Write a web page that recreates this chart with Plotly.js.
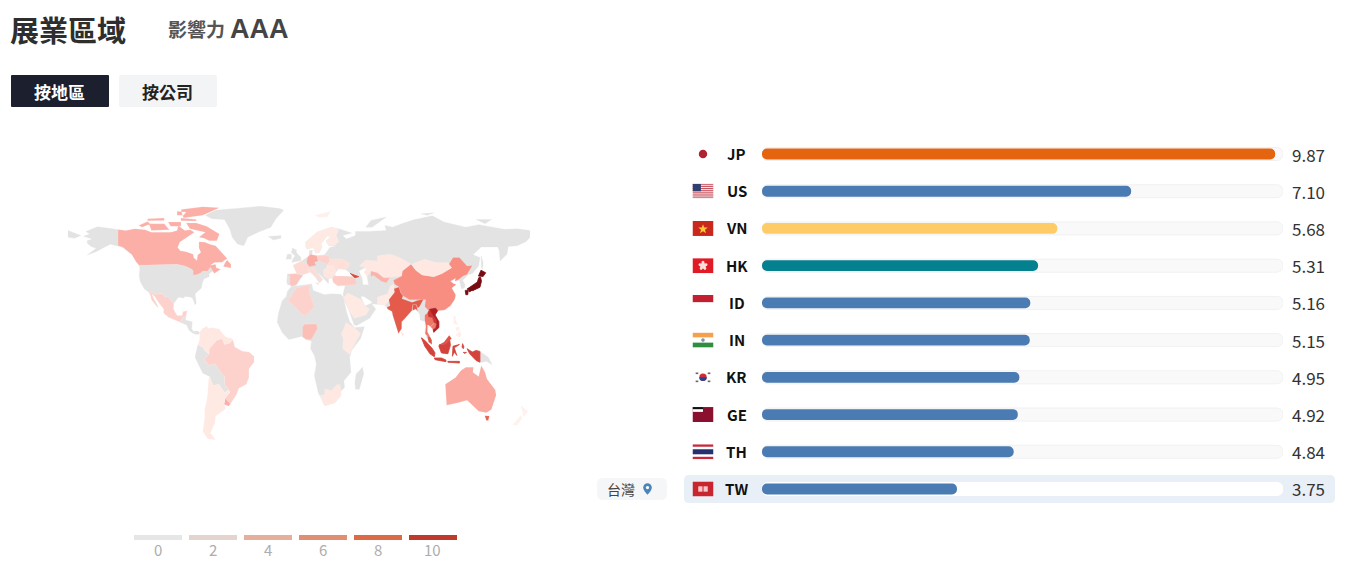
<!DOCTYPE html>
<html><head><meta charset="utf-8">
<script src="https://cdn.plot.ly/plotly-3.0.1.min.js"></script>
<style>html,body{margin:0;padding:0;background:#fff}#c{width:1346px;height:568px}</style></head>
<body><div id="c"></div>
<script>
const codes = ['JP','US','VN','HK','ID','IN','KR','GE','TH','TW'];
const scores = [9.87,7.10,5.68,5.31,5.16,5.15,4.95,4.92,4.84,3.75];
const barColors = ['#e4640f','#4a7cb3','#fdcb68','#05808f','#4a7cb3','#4a7cb3','#4a7cb3','#4a7cb3','#4a7cb3','#4a7cb3'];
const legendLabels = ['0','2','4','6','8','10'];
const legendColors = ['#e6e6e6','#e3d5cd','#e4b09b','#e08f72','#dc6a45','#bf3a2b'];

// Rough map outlines, [longitude, latitude]; no geographic file can be loaded here.
const landNorthAmerica = [
 [[-141,69.6],[-141,60.2],[-137,58.9],[-133,56.5],[-130.5,55],[-134,58.5],[-140,59.8],[-147,60.9],[-152,59],[-158,56.5],[-165,54.5],[-158,58.5],[-162,59.5],[-165,61.5],[-165,63],[-161,64],[-168,65.6],[-163,67],[-166,68.5],[-157,71.2],[-150,70.5]],
 [[-124.7,48.4],[-95,49],[-89,48],[-84.5,46.5],[-82.5,45.3],[-82.5,42.5],[-79,43],[-76.5,44],[-75,45],[-71,45],[-69,47.3],[-67,45],[-70,43.5],[-70,41.7],[-74,40.5],[-75.5,37.5],[-76,35],[-81,31.5],[-80,26],[-81,25],[-83,29],[-85,29.7],[-89,30],[-90,29],[-94,29.5],[-97.5,26],[-99.5,27.5],[-101.5,29.7],[-104.5,29.6],[-106.5,31.8],[-111,31.3],[-114.8,32.5],[-117.1,32.5],[-120.6,34.5],[-123.8,39],[-124.5,42.5],[-124,46.5]],
 [[-92.2,14.6],[-91,17.2],[-89,17.8],[-88,18.5],[-88.5,16],[-83.2,15],[-83.6,11],[-82.5,9.3],[-79.5,9.5],[-77.4,8.7],[-78,7.5],[-80.5,7.5],[-83,8.3],[-85.7,10],[-87.5,13],[-90,13.7]],
 [[-73,78],[-65,81],[-30,83.4],[-15,82],[-12,81],[-18,76],[-22,71],[-32,68],[-40,65],[-43,60],[-48,61],[-52,65],[-54,70],[-58,75.5],[-68,76]],
 [[-24,65.5],[-14,66],[-14,64.5],[-20,63.4]]
];
const landSouthAmerica = [
 [[-78.8,1.4],[-75.3,0],[-73,-2.4],[-70,-4.2],[-74,-7.5],[-70,-11],[-65.3,-10],[-60,-16],[-58,-17.5],[-58,-22],[-54.6,-25.5],[-58,-27],[-62.5,-22],[-67,-23],[-69.5,-17.5],[-75,-15.5],[-81,-6],[-80,-2.5]]
];
const landAfrica = [
 [[-6,35.8],[10,37.3],[11,33.5],[20,31],[25,31.5],[32.5,31.2],[34.5,29.5],[37,21],[39.5,15],[43.3,11.5],[51,12],[48,5],[41,-2],[39.5,-6],[40.5,-15],[35,-20],[35.5,-24],[32.8,-26],[32.5,-29],[28,-33],[20,-34.8],[18,-32],[15,-27],[12,-17],[13.5,-10],[12,-5],[9,-1],[9.7,3.5],[5.5,4.5],[2,6.3],[-4,5],[-8,4.5],[-13,8.5],[-17,14.7],[-16,20],[-13,27.5],[-9.8,30],[-9,33]],
 [[49.5,-12],[50.4,-16],[47,-25],[44,-25],[43.5,-21],[44.5,-16]]
];
const landEurasia = [
 [[-9.5,38.7],[-9,43.3],[-1.5,43.5],[-4.5,48.5],[2,51],[8,54],[8,57],[10.5,57.5],[10,54],[14,54],[20,54.7],[24,59],[30,60],[23,60],[21,63],[25,65.5],[22,65.8],[17,61],[18,59.5],[16,56],[13,55.5],[11,59],[6,58],[5,62],[14,68],[25,71],[31,70],[41,67.5],[34,66],[37,64],[44,66],[44,68.5],[54,68.5],[68,69],[67,72],[73,71],[80,73],[90,75.5],[104,77.7],[113,74],[130,71],[140,72.5],[160,69.7],[170,70],[180,69],[180,65],[177,62.5],[170,60],[163,59.5],[162,55],[156.7,51],[156,57],[155,59.3],[142,59.3],[135.5,54.7],[141,53],[140,48],[135,43.5],[132,43],[129.5,41],[127.5,39.5],[129.3,37],[129,35],[126.5,34.5],[126,37],[125,39.5],[121.5,39],[122,40.7],[118,39],[120.5,37.5],[122.5,37],[119,35],[122,31],[121.5,28.5],[118,24.5],[113.5,22],[108,21.5],[106,19],[109,15],[109,11.5],[105,8.7],[105,10.5],[101,13],[100,9],[103.5,4],[103.5,1.5],[101,3],[98.3,8],[98.5,15],[94.5,16],[94,19.5],[91,22.5],[88,21.7],[82,16.5],[80,15],[80,11],[77.5,8],[73,19],[72.5,21],[69,22.5],[67,24.8],[61,25.3],[57,25.5],[56.5,27],[50.5,30],[48,30],[51.5,24.3],[56.3,26],[59.8,22.5],[55,17],[45,12.8],[43,13],[39,21.5],[35,28],[34.3,31.3],[36,36.5],[30,36.3],[26.5,38.5],[26,41],[23,40.3],[23,37.5],[20,40],[13,45.5],[18.5,40],[16,38],[12,42],[8.8,44.4],[3,43],[0,39.5],[-2,36.8],[-5.5,36],[-9,37]],
 [[-5.5,50],[1.5,51.2],[1.5,53],[-2,56],[-2,57.5],[-5,58.6],[-6,56],[-3,54],[-5,52]],
 [[-10,52],[-6,52.2],[-6,55],[-9,55]],
 [[52,71],[56,75],[68,77],[57,71]],
 [[142,54],[143.5,50],[143,46],[142,47],[142,51]],
 [[138,75.5],[150,75.5],[145,73]],
 [[95,79],[105,79.5],[100,78]],
 [[-180,69],[-170,66],[-175,64.5],[-180,65]],
 [[141,-2.6],[145,-4.5],[147.5,-6],[150.5,-10.5],[146,-8.5],[143,-9],[141,-9]]
];
const seaCaspian = [[[47,45],[52,47],[53,41],[54,37],[50,37],[49.5,40.5]]];
const seaBlack = [[[28,43],[31,46.5],[37,45.5],[41.5,42],[35,42],[30,41.2]]];
const geoCanada = [
 [[-141,69.6],[-135,69],[-128,70],[-120,69.5],[-115,68],[-108,68],[-100,68],[-95,69],[-94,72],[-89,69],[-85,69.5],[-81.5,68],[-87,65],[-93,62],[-94.5,59],[-92.5,57],[-88,56.5],[-82.5,55],[-82,52.9],[-79.5,51.3],[-79,54.5],[-76.5,56],[-78,58.8],[-78,62.4],[-73,62],[-70,61],[-65,60],[-61,56.5],[-56,52.5],[-60,50.2],[-66,50],[-69,48.5],[-65,49],[-64.5,47],[-61,46],[-66,43.6],[-67,45],[-69,47.3],[-71,45],[-75,45],[-76.5,44],[-79,43],[-82.5,42.5],[-82.5,45.3],[-84.5,46.5],[-89,48],[-95,49],[-124.7,48.4],[-127,50.5],[-130.5,55],[-133,56.5],[-137,58.9],[-141,60.2]],
 [[-80,73.5],[-72,71.5],[-62,67],[-64,63],[-70,63],[-74,64.5],[-78,65],[-73,68],[-85,70],[-88,73.5]],
 [[-117,73],[-105,73],[-101,69.5],[-115,69]],
 [[-125,72],[-118,74.3],[-116,73],[-122,71]],
 [[-90,76.5],[-75,78],[-62,82.5],[-75,83.1],[-92,81.5]],
 [[-92,76.5],[-80,75.5],[-80,74.7],[-92,74.8]],
 [[-118,76],[-105,76.5],[-105,75],[-118,74.8]],
 [[-95,80.5],[-88,80],[-90,78],[-95,78]],
 [[-102,74],[-92,74],[-92,71.5],[-100,71.5]],
 [[-59,47.7],[-53,46.8],[-53,49],[-56,51.5],[-57.5,50]]
];
const geoMexico = [[[-117.1,32.5],[-114.8,32.5],[-111,31.3],[-106.5,31.8],[-104.5,29.6],[-101.5,29.7],[-99.5,27.5],[-97.5,26],[-97.8,22.5],[-95,18.7],[-91,18.7],[-90.5,21],[-87,21.5],[-88,18.5],[-89,17.8],[-91,17.2],[-92.2,14.6],[-96,15.8],[-101.5,17.5],[-105.5,20],[-105.5,22.5],[-109,26],[-112.5,30],[-114.7,31.5],[-113,28.5],[-110,24.5],[-109.5,23],[-112,25],[-115,28],[-116,31]]];
const geoColombiaVenezuela = [[[-77.4,8.7],[-75.5,10.8],[-71.5,12.4],[-71,11],[-68,11.5],[-62,10.7],[-60,8.5],[-57,6],[-52,5],[-51.5,4.3],[-54,2.3],[-58,1.5],[-60,5],[-64,4],[-67,1.5],[-70,-1],[-70,-4.2],[-73,-2.4],[-75.3,0],[-78.8,1.4],[-77.5,4],[-77.5,7]]];
const geoBrazil = [[[-51.5,4.3],[-50,0],[-44,-2.5],[-39,-3],[-35,-5.5],[-35,-9],[-39,-13],[-39,-18],[-41,-22],[-47,-24.5],[-48.5,-28],[-53.4,-33.7],[-57.6,-30.2],[-54,-27],[-54.6,-25.5],[-58,-22],[-58,-17.5],[-60,-16],[-65.3,-10],[-70,-11],[-74,-7.5],[-70,-4.2],[-70,-1],[-67,1.5],[-64,4],[-60,5],[-58,1.5],[-54,2.3]]];
const geoUruguay = [[[-58.4,-34],[-57.6,-30.2],[-53.4,-33.7],[-54.8,-35]]];
const geoArgentinaChile = [[[-69.5,-17.5],[-67,-23],[-62.5,-22],[-58,-27],[-54.6,-25.5],[-54,-27],[-57.6,-30.2],[-58.4,-34],[-57,-36.5],[-62,-39],[-65,-41],[-65.5,-45],[-69,-51],[-65,-55],[-71,-54.5],[-75,-50],[-73.5,-42],[-73.5,-37],[-71.5,-30],[-70.3,-18.5]]];
const geoAlgeria = [[[-8.7,27.5],[-2,35],[8.5,37],[8,32],[9.5,30],[12,23.5],[5.5,19],[3,19],[-4.8,25]]];
const geoNigeria = [[[2.7,6.3],[2.7,11.5],[4,13.5],[13.5,13.7],[14.5,11],[9.7,4.5],[5.5,4.5]]];
const geoEastAfrica = [[[36.5,14.5],[43,11.5],[48,8],[41,-1.5],[39.5,-4.5],[34,-1],[34.5,4.5],[33,8],[35,11]]];
const geoSouthAfrica = [[[16.5,-28.6],[20,-28.4],[20,-24.8],[25.5,-25.7],[29.5,-22.2],[32,-22.3],[32.8,-26],[32.5,-29],[28,-33],[20,-34.8],[18,-32]]];
const geoSaudi = [[[34.8,29.3],[38,32],[46,29],[48.5,28],[51.5,24.3],[55,22.5],[52,19],[43,17],[39,21.5],[35.5,27.5]]];
const geoChina = [[[73.5,39.5],[80,42],[80.5,45],[87.5,49],[91,45.5],[96,42.7],[105,41.7],[111.5,43.5],[119,47],[116,48],[120,53],[125,53],[131,48],[135,48.3],[131,43],[128,42],[124.5,40],[121.5,39],[122,40.7],[118,39],[120.5,37.5],[122.5,37],[119,35],[122,31],[121.5,28.5],[118,24.5],[113.5,22],[108,21.5],[106.5,23],[102,22.4],[101,21.5],[98,24],[98.7,28],[92,28],[86,28],[81,30.3],[79,32.5],[78,35.5],[74.5,37.2]]];
const geoMongolia = [[[87.5,49],[98,52],[107,50],[116,50],[119,47],[111.5,43.5],[105,41.7],[96,42.7],[91,45.5]]];
const geoKazakhstan = [[[47,48],[52,51.5],[61,51],[61,54],[71,55],[77,53.5],[87,49.5],[80.5,45],[80,42],[70,41.5],[66,41],[61,44],[56,45],[53,41.5],[50.5,44.5],[53,47]]];
const geoUzbekistan = [[[56,45],[61,44],[66,41],[71,41],[68,38],[64,39],[58,42.5],[56,41.5]]];
const geoGeorgia = [[[40,43.5],[46.5,41.7],[43.5,41]]];
const geoTurkey = [[[26,41],[28,42],[35,42],[41.5,41.5],[44.5,40],[44.5,37],[36,36.5],[30,36.3],[26.5,38.5]]];
const geoPakistan = [[[61,25.3],[67,24.8],[71,28],[74.5,31],[74,37],[71,36],[69,31.5],[61,29.5]]];
const geoIndia = [[[68.5,23.5],[71,24.5],[70,28],[74.5,32.5],[74,34.5],[78,35.5],[79,32.5],[81,30.3],[80.3,28.6],[88,26.5],[89,26.7],[92,27.5],[97,28.3],[94,24],[92.5,23],[91.5,25],[88.5,25],[88,21.7],[82,16.5],[80,15],[80,11],[77.5,8],[73,19],[72.5,21],[69,22.5]]];
const geoBangladesh = [[[88.5,25],[91.5,25],[92.5,21],[91,22.5],[88.5,21.7]]];
const geoThailand = [[[98.3,8],[100,6.5],[102,6.2],[100,9],[100,13],[101,13],[102.5,12],[105.5,14.3],[104,17.5],[101,18],[100.5,20.3],[98,19],[98,16],[99,12]]];
const geoCambodia = [[[102.5,12],[104.5,10.4],[106.5,11],[107.5,14],[105.5,14.3]]];
const geoLaos = [[[100.5,20.3],[102,22.4],[104.5,19],[107.5,16],[107.5,14],[105.5,14.3],[104,17.5],[101,18]]];
const geoVietnam = [[[102,22.4],[106.5,23],[108,21.5],[106,19],[109,15],[109,11.5],[105,8.7],[104.5,10.4],[106.5,11],[107.5,14],[107.5,16],[104.5,19]]];
const geoMalaysia = [[[100,6.5],[102,6.2],[103.5,4],[103.5,1.5],[101,3]],[[109.5,1.5],[113,3],[117,7],[119,5],[117.5,4],[115,2.5],[113,1.2]]];
const geoIndonesia = [
 [[95.3,5.5],[98,4],[104,-1],[106,-3.5],[105.5,-5.8],[102,-4],[98,0.5]],
 [[105.5,-6.5],[111,-6.5],[114.5,-7.7],[114.5,-8.7],[106,-7.5]],
 [[109,0.5],[109.5,1.5],[113,1.2],[115,2.5],[117.5,4],[118,1],[116,-4],[111,-3.5],[110,-1.5]],
 [[119.5,-5.5],[120,0.5],[125,1.5],[121,-0.5],[123,-5],[121,-3]],
 [[131,-1],[135,-3],[138,-2],[141,-2.6],[141,-9],[138,-8],[133,-4]],
 [[116,-8.5],[125,-8.5],[125,-9.5],[116,-9]],
 [[127.5,2],[128.5,0],[128,-1],[127,0]],
 [[128,-3.2],[130.5,-3.2],[129,-3.8]]
];
const geoPhilippines = [[[120.5,18.5],[122.2,18.3],[122,16],[124,13],[120.5,14]],[[122,7],[125.5,9.7],[126.5,7],[125,5.7]],[[122,11.5],[125,12],[125,10],[122.5,9.7]]];
const geoJapan = [
 [[130.9,34.3],[136,36.8],[139,38.5],[140,41],[141.5,41.4],[142.2,39],[141,35.4],[137,34],[135.5,33.4],[133,33.8]],
 [[139.8,42],[141.8,45.5],[145.5,44],[143.5,41.8]],
 [[129.5,33.5],[131.9,33.7],[131.5,31],[130,31]],
 [[132.3,33.9],[134.7,34.2],[134.3,33.2],[132.6,32.7]]
];
const geoSriLanka = [[[80,9.5],[81.8,7.5],[80.6,6],[79.8,7.5]]];
const geoSpain = [[[-9.3,43],[-1.8,43.4],[3.2,42.4],[0,39.5],[-2,36.8],[-5.5,36],[-7.3,37.2],[-7,42]]];
const geoFrance = [[[-1.8,43.4],[-4.7,48.4],[1.5,50.7],[4,50],[8.2,49],[7.5,44],[3.2,42.8]]];
const geoGermany = [[[6,51],[7,53.5],[9,55],[14,54],[15,51],[12,50],[13.5,48.5],[8,47.6],[6.2,49.5]]];
const geoPoland = [[[14,54],[19.5,54.5],[23.5,54],[24,50.5],[22.5,49],[15,51]]];
const geoItaly = [[[7,44],[7,46],[12,47],[13.7,45.7],[12.3,44.5],[16,41.8],[18.5,40],[16,38],[15.7,40],[12,42],[8.8,44.4]],[[12.5,38],[15.5,38.2],[15,36.7]]];
const geoNordic = [[[5,59],[5,62],[14,68],[25,71],[31,70],[29,66],[31,62.5],[28,60.5],[23,60],[21,63],[25,65.5],[22,65.8],[17,61],[18,59.5],[16,56],[13,55.5],[11,59],[8,58]]];
const geoRomania = [[[22,48],[26.5,48.2],[29.5,45],[28.5,43.8],[23,43.8],[20.5,46]]];
const geoUkraine = [[[22.5,49],[24,50.5],[24,52],[33,52.3],[40,49.6],[38,47],[35,46],[33,46],[30,46],[26.5,48.2],[22,48]]];
const geoBalkans = [[[19,46],[20.5,46],[23,43.8],[28.5,43.8],[26,41],[23,40.5],[20,41.5],[19,43]]];
const geoAustralia = [[[114,-22],[122,-18],[126,-14],[130,-12],[136,-12],[135.5,-15],[140,-17.5],[142,-11],[145,-15],[146.5,-19],[153,-25.5],[153.6,-28.5],[150,-37],[146,-39],[140,-38],[136,-35],[131,-31.5],[124,-33],[115,-34.5]]];
const geoTasmania = [[[144.7,-40.7],[148.3,-40.8],[147.5,-43.5],[146,-43.5]]];
const geoNewZealand = [[[172.7,-34.5],[178.5,-38],[175,-41.5],[174,-39]],[[172.5,-40.7],[174.3,-41.7],[170,-46.5],[166.5,-46]]];
const geoSvalbard = [[[12,78],[25,80.5],[22,77],[16,76.8]]];

const baseRegions = [landNorthAmerica,landSouthAmerica,landAfrica,landEurasia];
const seaRegions = [seaCaspian,seaBlack];
const mapRegions = [geoNordic,geoSvalbard,geoCanada,geoMexico,geoColombiaVenezuela,geoBrazil,geoUruguay,geoArgentinaChile,geoAlgeria,geoNigeria,geoEastAfrica,geoSouthAfrica,geoSaudi,geoChina,geoMongolia,geoKazakhstan,geoUzbekistan,geoGeorgia,geoTurkey,geoPakistan,geoIndia,geoBangladesh,geoThailand,geoCambodia,geoLaos,geoVietnam,geoMalaysia,geoIndonesia,geoPhilippines,geoJapan,geoSriLanka,geoSpain,geoFrance,geoGermany,geoPoland,geoItaly,geoRomania,geoUkraine,geoBalkans,geoAustralia,geoTasmania,geoNewZealand];
const mapValues =  [0.8,0.4,3.1,2.0,0.9,2.0,3.1,0.8,2.0,2.6,0.8,0.9,0.8,4.3,0.9,0.9,3.0,7.0,2.2,0.7,6.3,6.3,5.2,5.0,7.6,8.6,6.6,7.2,0.5,10,0.8,2.4,1.6,3.2,2.0,1.5,1.0,1.3,1.0,3.3,6.0,0.3];
const mapStops = [[0,'#fff6f3'],[1,'#fee6df'],[2,'#fdd2cc'],[3,'#fbb2aa'],[4,'#f9968a'],[5,'#f17a6b'],[6,'#e96250'],[7,'#d9483e'],[8.5,'#b51f24'],[10,'#770b12']];

const W=1346,H=568;
const px=x=>x/W, py=y=>1-y/H;
const FONT='"Noto Sans CJK TC","Noto Sans",sans-serif';
const rowTop=135.4,rowBottom=507.6;
const shapes=[],annotations=[],images=[];
function rrect(x0,y0,x1,y1,r,fill){
  shapes.push({type:'path',xref:'paper',yref:'paper',layer:'below',fillcolor:fill,line:{width:0},
    path:`M${px(x0+r)},${py(y0)}L${px(x1-r)},${py(y0)}Q${px(x1)},${py(y0)} ${px(x1)},${py(y0+r)}L${px(x1)},${py(y1-r)}Q${px(x1)},${py(y1)} ${px(x1-r)},${py(y1)}L${px(x0+r)},${py(y1)}Q${px(x0)},${py(y1)} ${px(x0)},${py(y1-r)}L${px(x0)},${py(y0+r)}Q${px(x0)},${py(y0)} ${px(x0+r)},${py(y0)}Z`});
}
function label(x,y,text,size,color,anchor,bold,family){
  annotations.push({xref:'paper',yref:'paper',x:px(x),y:py(y),xanchor:anchor||'left',yanchor:'middle',showarrow:false,
    text:bold?`<b>${text}</b>`:text,font:{family:family||FONT,size,color},borderpad:0,borderwidth:0});
}
label(10,29,'展業區域',29,'#2e2e2e','left',true);
label(168,28.5,'影響力',19,'#555','left',true);
label(230,29,'AAA',27,'#444','left',true,'"Liberation Sans",sans-serif');
rrect(11,75,109,107,1,'#1b1f2e');
rrect(119,75,217,107,2,'#f2f4f6');
label(59.5,91.5,'按地區',17,'#fff','center',true);
label(167,91.5,'按公司',17,'#222','center',true);

legendLabels.forEach((t,i)=>{
  const x0=134+i*55;
  shapes.push({type:'rect',xref:'paper',yref:'paper',x0:px(x0),x1:px(x0+48),y0:py(535),y1:py(540),fillcolor:legendColors[i],line:{width:0}});
  label(x0+23.5,549,t,15,'#adadad','center',false);
});

rrect(684,475,1335,503,5,'#e9eff7');
rrect(597,478,667,500,6,'#f5f6f8');
label(621,488.5,'台灣',14,'#444','center',false);

const svg=(w,h,b)=>'data:image/svg+xml;charset=utf-8,'+encodeURIComponent(`<svg xmlns="http://www.w3.org/2000/svg" width="${w}" height="${h}" viewBox="0 0 ${w} ${h}">${b}</svg>`);
const addImg=(src,x,y,w,h)=>images.push({source:src,xref:'paper',yref:'paper',x:px(x),y:py(y),sizex:w/W,sizey:h/H,xanchor:'left',yanchor:'top',sizing:'stretch',layer:'above'});
const usStripes=[0,1,2,3,4,5,6].map(i=>`<rect y="${i*4}" width="40" height="2" fill="#c8525f"/>`).join('');
const hkPetals=[0,72,144,216,288].map(a=>`<ellipse cx="20" cy="9.500" rx="3" ry="4.500" fill="#fbdede" transform="rotate(${a} 20 14)"/>`).join('');
const flags={
 JP:`<rect width="40" height="28" fill="#fff"/><circle cx="20" cy="14" r="8" fill="#b0222f"/>`,
 US:`<rect width="40" height="28" fill="#f3e6e8"/>${usStripes}<rect width="16" height="14" fill="#2f3f6e"/>`,
 VN:`<rect width="40" height="28" fill="#c9281c"/><polygon points="20,6 22.4,12.2 29,12.4 23.8,16.4 25.6,22.8 20,19 14.4,22.8 16.2,16.4 11,12.4 17.6,12.2" fill="#fbc934"/>`,
 HK:`<rect width="40" height="28" fill="#e11b25"/>${hkPetals}`,
 ID:`<rect width="40" height="14" fill="#c21f30"/><rect y="14" width="40" height="14" fill="#fff"/>`,
 IN:`<rect width="40" height="9.3" fill="#f5a04a"/><rect y="9.3" width="40" height="9.4" fill="#fff"/><rect y="18.7" width="40" height="9.3" fill="#2f8f3f"/><circle cx="20" cy="14" r="3.4" fill="#8a8fa8"/>`,
 KR:`<rect width="40" height="28" fill="#fff"/><circle cx="20" cy="14" r="7" fill="#cf2b3a"/><path d="M13 14a7 7 0 0 0 14 0z" fill="#24478f"/><g fill="#666"><rect x="6" y="5" width="5" height="3"/><rect x="29" y="5" width="5" height="3"/><rect x="6" y="20" width="5" height="3"/><rect x="29" y="20" width="5" height="3"/></g>`,
 GE:`<rect width="40" height="28" fill="#8b1030"/><rect width="20" height="9" fill="#fff"/><rect width="20" height="4" fill="#111"/>`,
 TH:`<rect width="40" height="28" fill="#fff"/><rect width="40" height="4.6" fill="#c8283a"/><rect y="23.4" width="40" height="4.6" fill="#c8283a"/><rect y="9.3" width="40" height="9.4" fill="#27306e"/>`,
 TW:`<rect width="40" height="28" fill="#c8252e"/><rect x="11" y="9" width="8" height="10" fill="#f5c9c9"/><rect x="21" y="9" width="8" height="10" fill="#f5c9c9"/>`
};
codes.forEach((c,i)=>{
  const yc=rowTop+(i+0.5)*(rowBottom-rowTop)/codes.length;
  addImg(svg(40,28,flags[c]),692.5,yc-(c==='ID'?8:7.5),21,15);
  label(736.5,yc-0.5,c,15,'#111','center',true);
  label(1292,yc,scores[i].toFixed(2),17,'#333','left',false);
});
addImg(svg(14,18,`<path d="M7 1a6 6 0 0 0-6 6c0 4.5 6 10 6 10s6-5.500 6-10a6 6 0 0 0-6-6z" fill="#4a84b8"/><circle cx="7" cy="7" r="2.300" fill="#fff"/>`),642.5,482.5,10,13);

function hexRgb(h){return [1,3,5].map(i=>parseInt(h.substr(i,2),16));}
function valueColor(v){
  for(let i=1;i<mapStops.length;i++){
    if(v<=mapStops[i][0]){
      const [a,ca]=mapStops[i-1],[b,cb]=mapStops[i],t=(v-a)/(b-a),p=hexRgb(ca),q=hexRgb(cb);
      return `rgb(${p.map((u,k)=>Math.round(u+(q[k]-u)*t)).join(',')})`;
    }
  }
  return mapStops[mapStops.length-1][1];
}
function regionTrace(rings,fill,lineColor,lineWidth){
  const lon=[],lat=[];
  rings.forEach(r=>{r.forEach(p=>{lon.push(p[0]);lat.push(p[1]);});lon.push(r[0][0]);lat.push(r[0][1]);lon.push(null);lat.push(null);});
  return {type:'scatter',mode:'lines',x:lon,y:lat,xaxis:'x2',yaxis:'y2',fill:'toself',fillcolor:fill,hoverinfo:'skip',line:{color:lineColor,width:lineWidth}};
}

const trackEnd=10.02;
const trackColors=codes.map(c=>c==='TW'?'#ffffff':'#f9f9f9');
const trackLine=codes.map(c=>c==='TW'?'#ffffff':'#f1f1f1');
const bases=codes.map(()=>0); // an explicit base makes Plotly round both ends of a bar
const hBar=(x,width,color,line,r)=>({type:'bar',orientation:'h',y:codes,base:bases,x,xaxis:'x',yaxis:'y',width,hoverinfo:'skip',
  marker:{color,line:line?{color:line,width:1}:{width:0},cornerradius:r}});
const data=[
 ...baseRegions.map(r=>regionTrace(r,'#e3e3e3','#e3e3e3',0.3)),
 ...seaRegions.map(r=>regionTrace(r,'#ffffff','#ffffff',0.3)),
 ...mapRegions.map((r,i)=>{const col=valueColor(mapValues[i]);
    return mapValues[i]>=7?regionTrace(r,col,col,0.8):regionTrace(r,col,'rgba(255,255,255,0.45)',0.3);}),
 hBar(codes.map(()=>trackEnd),0.35,trackColors,trackLine,6),
 hBar(scores,0.29,barColors,null,5)
];
const layout={
 width:W,height:H,margin:{l:0,r:0,t:0,b:0},paper_bgcolor:'#fff',plot_bgcolor:'rgba(0,0,0,0)',showlegend:false,barmode:'overlay',
 font:{family:FONT},
 xaxis:{domain:[px(762),px(1283)],range:[0,trackEnd],visible:false,fixedrange:true},
 yaxis:{domain:[py(rowBottom),py(rowTop)],type:'category',categoryorder:'array',categoryarray:codes,autorange:false,range:[9.5,-0.5],visible:false,fixedrange:true},
 xaxis2:{domain:[px(68),px(530)],range:[-180,180],visible:false,fixedrange:true,anchor:'y2'},
 yaxis2:{domain:[py(448.3),py(195.1)],range:[-60,90],visible:false,fixedrange:true,anchor:'x2'},
 shapes,annotations,images
};
Plotly.newPlot('c',data,layout,{displayModeBar:false,staticPlot:true});
</script></body></html>
